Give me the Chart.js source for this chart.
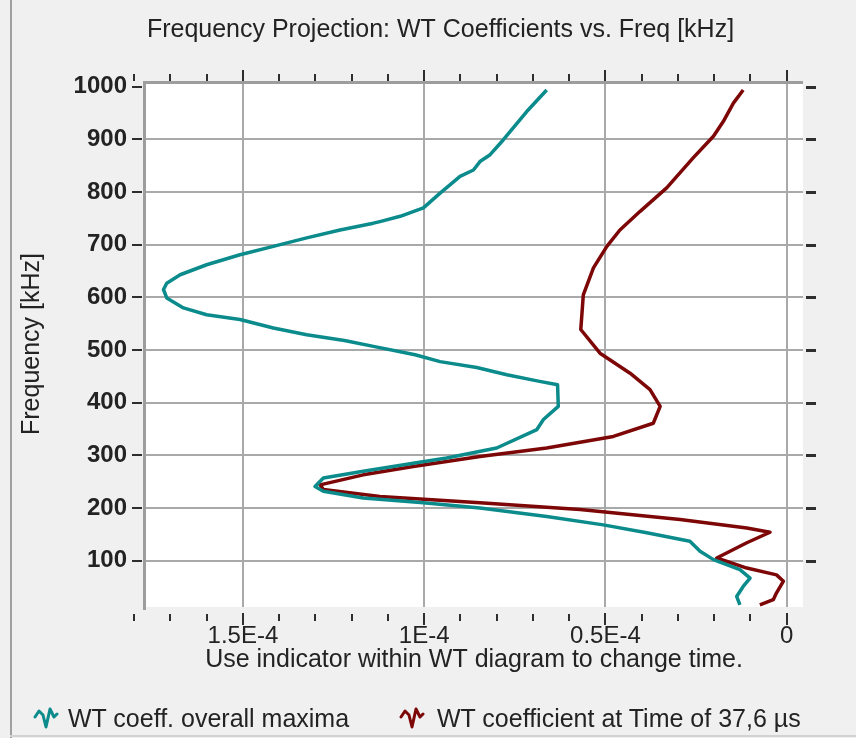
<!DOCTYPE html>
<html>
<head>
<meta charset="utf-8">
<title>Frequency Projection</title>
<script src="https://cdn.jsdelivr.net/npm/chart.js@4/dist/chart.umd.min.js"></script>
<style>
  html, body { margin: 0; padding: 0; background: #f0f0f0; }
  #wrap { position: relative; width: 856px; height: 738px; }
  #chart { position: absolute; left: 0; top: 0; }
  #legend { position: absolute; left: 0; top: 703px; width: 856px; height: 30px; }
  .lg-item { position: absolute; top: 0; height: 30px; display: flex; align-items: center;
             font: 25px "Liberation Sans", Arial, Helvetica, sans-serif; color: #232323; white-space: nowrap; }
  .lg-item canvas { display: block; }
</style>
</head>
<body>
<div id="wrap">
  <canvas id="chart" width="856" height="738"></canvas>
  <div id="legend"></div>
</div>
<script>
// WT coefficients are given in units of 1E-5
const COEF_UNIT = 1e-5;

// Overall maxima of the WT coefficients, per frequency (kHz)
const maxFreq = [994, 953, 899, 871, 858, 842, 830, 798, 770, 754, 744, 741, 728, 713, 697, 681, 662, 643, 627, 615,
  599, 580, 567, 558, 542, 529, 518, 507, 491, 478, 467, 453, 441, 434, 393, 368, 349, 314, 295, 285,
  270, 257, 241, 232, 219, 210, 200, 184, 168, 153, 137, 118, 102, 83, 67, 51, 32, 16];
const maxCoef = [6.62, 7.17, 7.82, 8.18, 8.46, 8.64, 9.01, 9.56, 10.02, 10.66, 11.22, 11.40, 12.32, 13.24, 14.16, 15.08, 16.00, 16.73, 17.10, 17.19,
  17.10, 16.64, 16.00, 15.08, 14.16, 13.24, 12.20, 11.40, 10.25, 9.56, 8.55, 7.72, 6.85, 6.32, 6.30, 6.71, 6.89, 8.00, 9.38, 10.30,
  11.68, 12.78, 13.01, 12.78, 11.68, 10.02, 8.46, 6.62, 5.06, 3.86, 2.67, 2.39, 2.02, 1.29, 1.01, 1.20, 1.38, 1.29];

// WT coefficients at the selected time, per frequency (kHz)
const timeFreq = [994, 969, 934, 906, 865, 808, 763, 728, 697, 656, 605, 567, 539, 494, 456, 425, 393, 361, 336, 314,
  298, 279, 263, 244, 235, 222, 210, 197, 178, 162, 154, 134, 105, 86, 73, 61, 39, 26, 16];
const timeCoef = [1.20, 1.47, 1.75, 2.02, 2.58, 3.31, 4.05, 4.60, 4.96, 5.33, 5.61, 5.65, 5.68, 5.15, 4.32, 3.77, 3.49, 3.68, 4.78, 6.62,
  8.46, 10.30, 11.68, 12.87, 12.78, 11.22, 8.46, 5.70, 2.94, 1.10, 0.46, 1.10, 1.93, 1.10, 0.28, 0.09, 0.28, 0.37, 0.74];

const seriesNames = ['WT coeff. overall maxima', 'WT coefficient at Time of 37,6 \u00b5s'];

const xTickValues = [0, 5e-5, 1e-4, 1.5e-4];
const xTickLabels = ['0', '0.5E-4', '1E-4', '1.5E-4'];
const xMinorStep = 1e-5;
const yTickValues = [100, 200, 300, 400, 500, 600, 700, 800, 900, 1000];

const X_MIN = -4.5e-6, X_MAX = 1.77e-4;
const Y_MIN = 12, Y_MAX = 1011;

const TEAL = '#0b8b8b';
const DARK_RED = '#7d0606';
const TEXT = '#232323';
const GRID = '#a9a9a9';
const FAMILY = '"Liberation Sans", Arial, Helvetica, sans-serif';

// left offsets of the legend entries
const legendSlots = [33, 399];

// small wave glyph used as legend marker
function waveIcon(color) {
  const c = document.createElement('canvas');
  c.width = 26; c.height = 28;
  const g = c.getContext('2d');
  g.strokeStyle = color;
  g.lineWidth = 3;
  g.lineJoin = 'round';
  g.lineCap = 'round';
  const pts = [[2, 13], [6, 7], [10, 11], [13, 23], [17, 5], [21, 13], [24, 10]];
  g.beginPath();
  pts.forEach(([px, py], i) => (i ? g.lineTo(px, py) : g.moveTo(px, py)));
  g.stroke();
  return c;
}

function toPoints(freq, coef) {
  return freq.map((f, i) => ({ x: coef[i] * COEF_UNIT, y: f }));
}

// legend rendered as HTML from the chart's datasets
const htmlLegend = {
  id: 'htmlLegend',
  afterUpdate(chart) {
    const box = document.getElementById('legend');
    box.innerHTML = '';
    chart.data.datasets.forEach((ds, i) => {
      const item = document.createElement('div');
      item.className = 'lg-item';
      item.style.left = legendSlots[i] + 'px';
      const icon = waveIcon(ds.borderColor);
      icon.style.marginRight = (i === 0 ? 9 : 12) + 'px';
      const label = document.createElement('span');
      label.textContent = ds.label;
      item.appendChild(icon);
      item.appendChild(label);
      box.appendChild(item);
    });
  }
};

// panel background, plot frame and the extra tick marks around the plot
const framePlugin = {
  id: 'framePlugin',
  beforeDraw(chart) {
    const { ctx, chartArea: a, width, height } = chart;
    ctx.save();
    ctx.fillStyle = '#f0f0f0';
    ctx.fillRect(0, 0, width, height);
    ctx.fillStyle = '#ffffff';
    ctx.fillRect(a.left, a.top, a.right - a.left, a.bottom - a.top);
    ctx.fillStyle = '#a0a0a0';
    ctx.fillRect(10, 0, 2, height);
    ctx.fillStyle = '#d2d2d2';
    ctx.fillRect(10, height - 3, width - 10, 2);
    ctx.restore();
  },
  beforeDatasetsDraw(chart) {
    const { ctx, chartArea: a } = chart;
    ctx.save();
    ctx.fillStyle = '#9d9d9d';
    ctx.fillRect(a.left - 2, a.top, a.right - a.left + 2, 3);
    ctx.fillRect(a.left - 2, a.top, 3, a.bottom - a.top + 3);
    ctx.restore();
  },
  afterDraw(chart) {
    const { ctx, chartArea: a, scales } = chart;
    const xs = scales.x, ys = scales.y;
    ctx.save();
    ctx.fillStyle = '#2e2e2e';
    const nMinor = Math.round(X_MAX / xMinorStep);
    for (let i = 0; i <= nMinor; i++) {
      const v = i * xMinorStep;
      const px = Math.round(xs.getPixelForValue(v));
      const major = i % 5 === 0;
      if (major) {
        ctx.fillRect(px - 1, a.top - 11, 2, 11);
        ctx.fillRect(px - 1, a.bottom + 6, 2, 12);
      } else {
        ctx.fillRect(px - 1, a.top - 7, 2, 7);
        ctx.fillRect(px - 1, a.bottom + 7, 2, 7);
      }
    }
    for (const v of yTickValues) {
      const py = Math.round(ys.getPixelForValue(v));
      ctx.fillRect(a.left - 13, py - 1, 10, 2);
      ctx.fillRect(a.right + 3, py - 1, 10, 3);
    }
    ctx.restore();
  }
};

new Chart(document.getElementById('chart'), {
  type: 'scatter',
  data: {
    datasets: [
      {
        label: seriesNames[0],
        data: toPoints(maxFreq, maxCoef),
        showLine: true,
        borderColor: TEAL,
        backgroundColor: TEAL,
        borderWidth: 3.5,
        pointRadius: 0,
        tension: 0,
        borderJoinStyle: 'round'
      },
      {
        label: seriesNames[1],
        data: toPoints(timeFreq, timeCoef),
        showLine: true,
        borderColor: DARK_RED,
        backgroundColor: DARK_RED,
        borderWidth: 3.5,
        pointRadius: 0,
        tension: 0,
        borderJoinStyle: 'round'
      }
    ]
  },
  options: {
    responsive: false,
    animation: false,
    events: [],
    layout: { padding: { left: 25, right: 0, top: 0, bottom: 0 } },
    plugins: {
      title: {
        display: true,
        text: 'Frequency Projection: WT Coefficients vs. Freq [kHz]',
        color: TEXT,
        font: { family: FAMILY, size: 25, weight: 'normal' },
        padding: { top: 15, bottom: 36 }
      },
      legend: { display: false },
      tooltip: { enabled: false }
    },
    scales: {
      x: {
        type: 'linear',
        position: 'bottom',
        reverse: true,
        min: X_MIN,
        max: X_MAX,
        afterBuildTicks: s => { s.ticks = xTickValues.map(v => ({ value: v })); },
        afterFit: s => { s.height = 131; },
        ticks: {
          callback: (v, i) => xTickLabels[i],
          color: TEXT,
          font: { family: FAMILY, size: 24 },
          padding: 14.6,
          autoSkip: false,
          maxRotation: 0
        },
        grid: { color: GRID, lineWidth: 2, drawTicks: false },
        border: { display: false },
        title: {
          display: true,
          text: 'Use indicator within WT diagram to change time.',
          color: TEXT,
          font: { family: FAMILY, size: 25 },
          padding: { top: 0, bottom: 63 }
        }
      },
      y: {
        type: 'linear',
        position: 'left',
        min: Y_MIN,
        max: Y_MAX,
        afterBuildTicks: s => { s.ticks = yTickValues.map(v => ({ value: v })); },
        afterFit: s => { s.width = 120; },
        ticks: {
          callback: v => String(v),
          color: TEXT,
          font: { family: FAMILY, size: 24, weight: 'bold' },
          padding: 18,
          autoSkip: false
        },
        grid: {
          color: c => (c.tick && c.tick.value === 1000 ? 'rgba(0,0,0,0)' : GRID),
          lineWidth: 2,
          drawTicks: false
        },
        border: { display: false },
        title: {
          display: true,
          text: 'Frequency [kHz]',
          color: TEXT,
          font: { family: FAMILY, size: 25 },
          padding: { top: -8, bottom: 0 }
        }
      },
      yRight: {
        type: 'linear',
        position: 'right',
        min: Y_MIN,
        max: Y_MAX,
        afterFit: s => { s.width = 53; },
        ticks: { display: false },
        grid: { display: false, drawTicks: false },
        border: { display: false }
      }
    }
  },
  plugins: [framePlugin, htmlLegend]
});
</script>
</body>
</html>
